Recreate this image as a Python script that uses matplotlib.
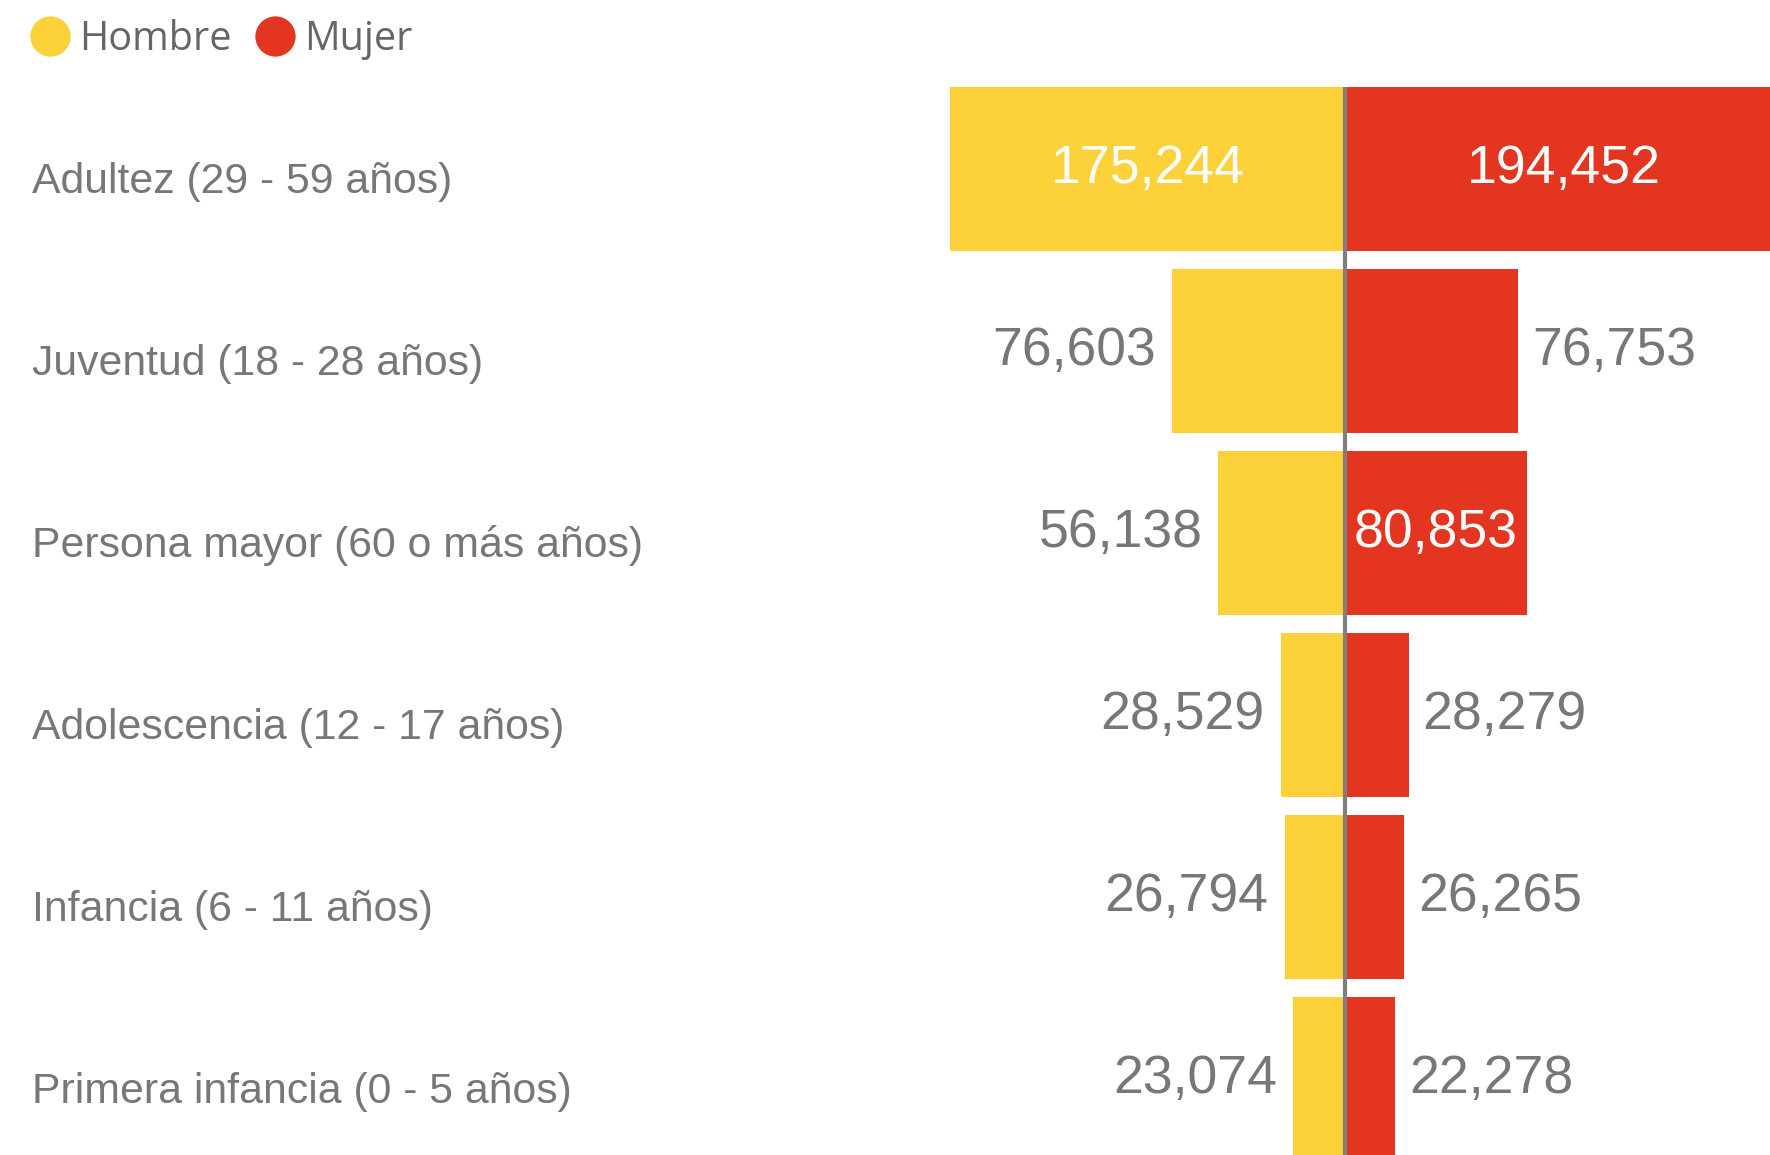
import matplotlib
matplotlib.use("Agg")
import matplotlib.pyplot as plt
from matplotlib.lines import Line2D
from matplotlib.transforms import blended_transform_factory

categories = ["Adultez (29 - 59 años)", "Juventud (18 - 28 años)",
              "Persona mayor (60 o más años)", "Adolescencia (12 - 17 años)",
              "Infancia (6 - 11 años)", "Primera infancia (0 - 5 años)"]
hombre = [175244, 76603, 56138, 28529, 26794, 23074]
mujer = [194452, 76753, 80853, 28279, 26265, 22278]
series_names = ["Hombre", "Mujer"]

YELLOW = "#FDD13A"
RED = "#E3351F"
GRAY = "#777777"
INSIDE_MIN = 80000  # values big enough to hold their label inside the bar

W, H, DPI = 1770, 1155, 100
fig = plt.figure(figsize=(W / DPI, H / DPI), dpi=DPI)
ax = fig.add_axes([0, 0, 1, 1])
ax.set_axis_off()

# layout: center at x=1345 px, 0.002254 px per unit
k = 1 / 0.002254
ax.set_xlim(-1345 * k, (W - 1345) * k)
pitch = 182.0
ax.set_ylim((H - 169) / pitch, -169 / pitch)

y = list(range(len(categories)))
bh = 0.905
ax.barh(y, [-v for v in hombre], height=bh, color=YELLOW, linewidth=0)
ax.barh(y, mujer, height=bh, color=RED, linewidth=0)
ax.vlines(0, -bh / 2, len(categories) + 1, color="#7f7f7f", linewidth=3)

num_font = dict(family="Liberation Sans", fontsize=38.5)
for i, (h, m) in enumerate(zip(hombre, mujer)):
    yy = i
    if h >= INSIDE_MIN:
        ax.text(-h / 2, yy, f"{h:,}", ha="center", va="center", color="white", **num_font)
    else:
        ax.text(-h - 16 * k, yy, f"{h:,}", ha="right", va="center", color=GRAY, **num_font)
    if m >= INSIDE_MIN:
        ax.text(m / 2, yy, f"{m:,}", ha="center", va="center", color="white", **num_font)
    else:
        ax.text(m + 14 * k, yy, f"{m:,}", ha="left", va="center", color=GRAY, **num_font)

trans = blended_transform_factory(ax.transAxes, ax.transData)
for i, c in enumerate(categories):
    ax.text(32 / W, i + 13 / pitch, c, transform=trans, ha="left", va="center",
            color=GRAY, family="Liberation Sans", fontsize=30.8)

handles = [Line2D([], [], marker="o", linestyle="none", markersize=29,
                  markerfacecolor=col, markeredgewidth=0)
           for col in (YELLOW, RED)]
leg = fig.legend(handles, series_names, loc="center left",
                 bbox_to_anchor=(38 / W, 1 - 40 / H), ncol=2, frameon=False,
                 handlelength=0.6, handletextpad=0.43, columnspacing=0.8,
                 borderaxespad=0, borderpad=0,
                 prop=dict(family="Open Sans", size=28.5))
for t in leg.get_texts():
    t.set_color("#666666")

fig.savefig("out.png", dpi=DPI)
